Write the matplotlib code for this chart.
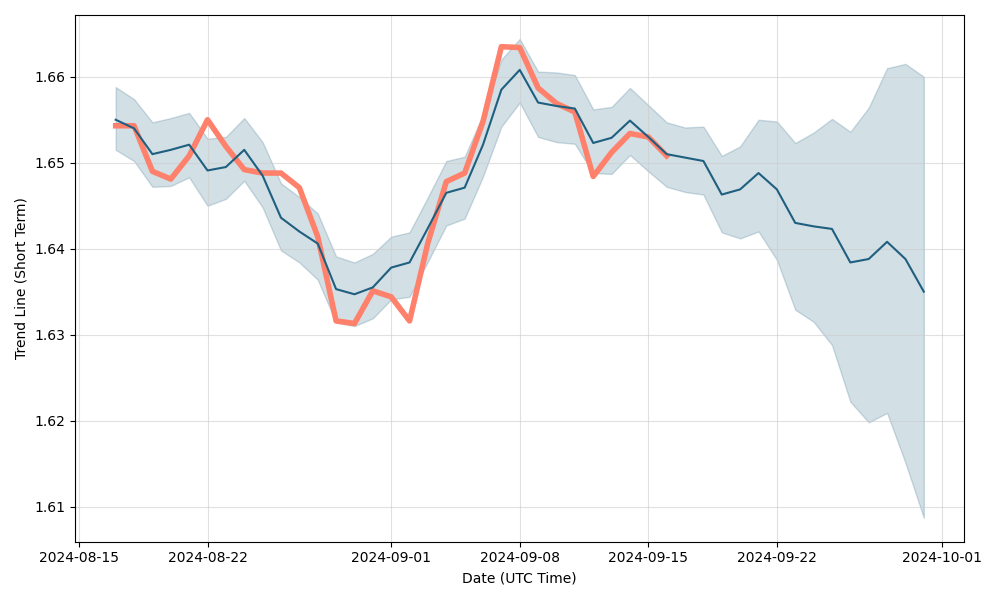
import matplotlib
matplotlib.use("Agg")
import matplotlib.pyplot as plt
import matplotlib.dates as mdates
import pandas as pd

dates = pd.date_range("2024-08-17", "2024-09-30", freq="D")

trend = [1.6550, 1.6540, 1.6510, 1.6515, 1.6521, 1.6491, 1.6495, 1.6515, 1.6485, 1.6436,
         1.6420, 1.6406, 1.6353, 1.6347, 1.6355, 1.6378, 1.6384, 1.6424, 1.6465, 1.6471,
         1.6521, 1.6585, 1.6608, 1.6570, 1.6566, 1.6563, 1.6523, 1.6529, 1.6549, 1.6530,
         1.6510, 1.6506, 1.6502, 1.6463, 1.6469, 1.6488, 1.6469, 1.6430, 1.6426, 1.6423,
         1.6384, 1.6388, 1.6408, 1.6388, 1.6350]

upper = [1.6588, 1.6574, 1.6547, 1.6552, 1.6558, 1.6528, 1.6530, 1.6552, 1.6524, 1.6476,
         1.6460, 1.6441, 1.6391, 1.6384, 1.6394, 1.6414, 1.6419, 1.6460, 1.6502, 1.6507,
         1.6556, 1.6620, 1.6644, 1.6606, 1.6605, 1.6602, 1.6562, 1.6565, 1.6587, 1.6567,
         1.6547, 1.6541, 1.6542, 1.6508, 1.6519, 1.6550, 1.6548, 1.6523, 1.6535, 1.6551,
         1.6536, 1.6564, 1.6610, 1.6615, 1.6600]

lower = [1.6515, 1.6502, 1.6472, 1.6473, 1.6483, 1.6450, 1.6458, 1.6479, 1.6448, 1.6398,
         1.6384, 1.6364, 1.6314, 1.6310, 1.6319, 1.6341, 1.6344, 1.6385, 1.6427, 1.6435,
         1.6484, 1.6542, 1.6570, 1.6530, 1.6524, 1.6522, 1.6488, 1.6487, 1.6509, 1.6490,
         1.6472, 1.6466, 1.6463, 1.6419, 1.6412, 1.6420, 1.6387, 1.6329, 1.6315, 1.6288,
         1.6222, 1.6198, 1.6209, 1.6151, 1.6087]

actual = [1.6543, 1.6543, 1.6490, 1.6481, 1.6508, 1.6550, 1.6519, 1.6492, 1.6488, 1.6488,
          1.6471, 1.6414, 1.6316, 1.6313, 1.6351, 1.6344, 1.6316, 1.6407, 1.6478, 1.6488,
          1.6548, 1.6635, 1.6634, 1.6587, 1.6569, 1.6559, 1.6484, 1.6512, 1.6534, 1.6530,
          1.6508]


def main():
    fig, ax = plt.subplots(figsize=(10, 6), dpi=100)

    ax.fill_between(dates, lower, upper, color="#1f5f7f", alpha=0.2)
    ax.plot(dates[:len(actual)], actual, color="#ff806b", linewidth=4)
    ax.plot(dates, trend, color="#1f5f7f", linewidth=1.5)

    ax.grid(True, color="#cccccc", alpha=0.6)
    ax.xaxis.set_major_locator(mdates.AutoDateLocator())
    ax.xaxis.set_major_formatter(mdates.DateFormatter("%Y-%m-%d"))
    ax.set_xlabel("Date (UTC Time)")
    ax.set_ylabel("Trend Line (Short Term)")

    fig.tight_layout()
    fig.savefig("out.png")


if __name__ == '__main__':
    main()
